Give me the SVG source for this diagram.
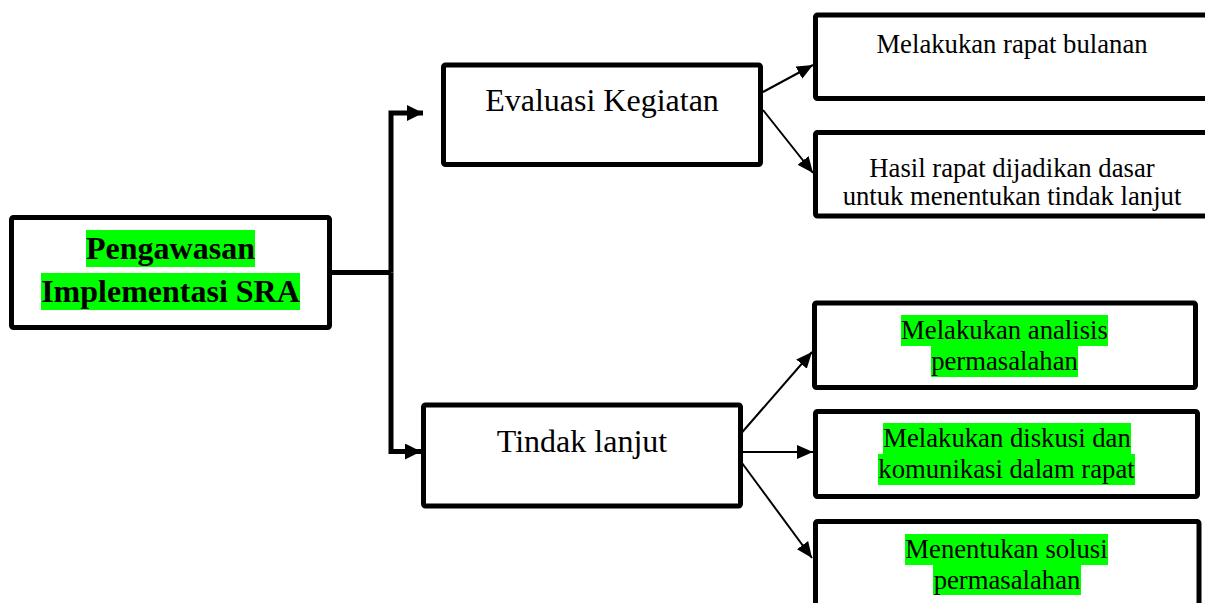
<svg xmlns="http://www.w3.org/2000/svg" width="1205" height="603" viewBox="0 0 1205 603">
<style>
.box{fill:#fff;stroke:#000;stroke-width:5;stroke-linejoin:round}
.t{font-family:"Liberation Serif","Times New Roman",serif;fill:#000;text-anchor:middle}
.big{font-size:32px}
.bold{font-weight:bold}
.sm{font-size:26.7px}
.hl{fill:#00ff00}
.thick{fill:none;stroke:#000;stroke-width:5;stroke-linejoin:miter}
.thin{fill:none;stroke:#000;stroke-width:2}
</style>
<defs>
<marker id="ah" markerUnits="userSpaceOnUse" markerWidth="16" markerHeight="14" refX="16" refY="7" orient="auto"><path d="M0,0 L16,7 L0,14 z" fill="#000"/></marker>
<marker id="ahb" markerUnits="userSpaceOnUse" markerWidth="16" markerHeight="16" refX="16" refY="8" orient="auto"><path d="M0,0 L16,8 L0,16 z" fill="#000"/></marker>
</defs>
<rect width="1205" height="603" fill="#fff"/>
<g id="connectors">
<polyline class="thick" points="331,272.5 391,272.5"/>
<polyline class="thick" points="391,272.5 391,113 423,113" marker-end="url(#ahb)"/>
<polyline class="thick" points="391,272.5 391,451.5 421,451.5" marker-end="url(#ahb)"/>
<line class="thin" x1="763" y1="92" x2="813" y2="65" marker-end="url(#ah)"/>
<line class="thin" x1="763" y1="110" x2="813" y2="173" marker-end="url(#ah)"/>
<line class="thin" x1="738" y1="437" x2="812" y2="352" marker-end="url(#ah)"/>
<line class="thin" x1="742" y1="452" x2="813" y2="452" marker-end="url(#ah)"/>
<line class="thin" x1="742" y1="463" x2="812" y2="558" marker-end="url(#ah)"/>
</g>
<g id="root">
<rect class="box" x="11.5" y="217.5" width="318" height="110" rx="2"/>
<rect class="hl" x="86" y="230" width="169" height="37"/>
<rect class="hl" x="41" y="273" width="259" height="37"/>
<text class="t big bold" x="170.5" y="259">Pengawasan</text>
<text class="t big bold" x="170.5" y="302">Implementasi SRA</text>
</g>
<g id="evaluasi">
<rect class="box" x="443.5" y="65" width="317" height="99.5" rx="2"/>
<text class="t big" x="602" y="111">Evaluasi Kegiatan</text>
</g>
<g id="tindak">
<rect class="box" x="423.5" y="405" width="317" height="101" rx="2"/>
<text class="t big" x="582" y="452">Tindak lanjut</text>
</g>
<g id="rapat-bulanan">
<rect class="box" x="815.5" y="15" width="400" height="83.5" rx="2"/>
<text class="t sm" x="1012" y="53">Melakukan rapat bulanan</text>
</g>
<g id="hasil-rapat">
<rect class="box" x="815.5" y="132.5" width="400" height="83.5" rx="2"/>
<text class="t sm" x="1012" y="177">Hasil rapat dijadikan dasar</text>
<text class="t sm" x="1012" y="205">untuk menentukan tindak lanjut</text>
</g>
<g id="analisis">
<rect class="box" x="814.5" y="303" width="381" height="84.5" rx="2"/>
<rect class="hl" x="901" y="315" width="207" height="31"/>
<rect class="hl" x="931" y="346" width="147" height="31"/>
<text class="t sm" x="1004.5" y="339">Melakukan analisis</text>
<text class="t sm" x="1004.5" y="370">permasalahan</text>
</g>
<g id="diskusi">
<rect class="box" x="815.5" y="411.5" width="382" height="85" rx="2"/>
<rect class="hl" x="883" y="423" width="248" height="31"/>
<rect class="hl" x="878" y="454" width="257" height="31"/>
<text class="t sm" x="1007" y="447">Melakukan diskusi dan</text>
<text class="t sm" x="1006.5" y="478">komunikasi dalam rapat</text>
</g>
<g id="solusi">
<rect class="box" x="815.5" y="521.5" width="383.5" height="110" rx="2"/>
<rect class="hl" x="905" y="534" width="203" height="31"/>
<rect class="hl" x="933" y="565" width="148" height="30"/>
<text class="t sm" x="1006.5" y="558">Menentukan solusi</text>
<text class="t sm" x="1007" y="589">permasalahan</text>
</g>
</svg>
